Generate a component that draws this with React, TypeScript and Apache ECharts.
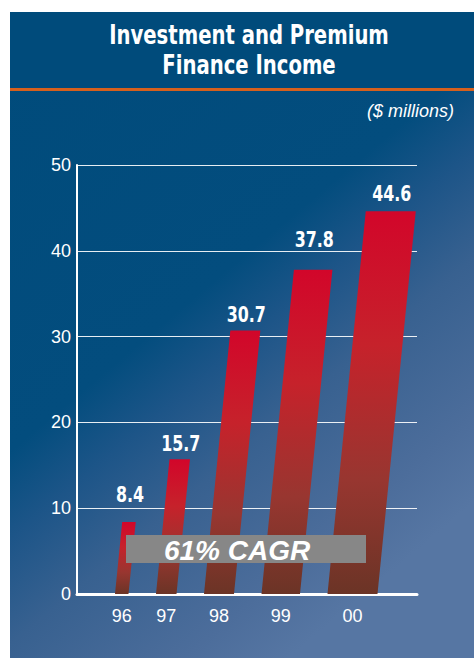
import React, { useEffect, useRef } from 'react';
import * as echarts from 'echarts';

const categories = ['96', '97', '98', '99', '00'];
const values = [8.4, 15.7, 30.7, 37.8, 44.6];
const titleLines = ['Investment and Premium', 'Finance Income'];
const unitLabel = '($ millions)';
const cagrLabel = '61% CAGR';

// styling constants (not data)
const BAR_WIDTHS = [13.5, 20.5, 30, 38.5, 50];
const LABEL_GAPS = [20, 9, 9, 23, 11];
const BAR_GAP = 27.5;
const FIRST_OFFSET = 38;
const SLANT = 0.1;
const NARROW = 0.84;

const CONDENSED = '"Liberation Sans Narrow", "DejaVu Sans Condensed", "Roboto Condensed", sans-serif';
const SANS = '"Liberation Sans", Arial, sans-serif';

export default function App() {
  const ref = useRef<HTMLDivElement>(null);

  useEffect(() => {
    document.body.style.margin = '0';
    const chart = echarts.init(ref.current as HTMLDivElement, null, { renderer: 'svg' });

    const barFill = new echarts.graphic.LinearGradient(0, 0, 0, 1, [
      { offset: 0, color: '#d2062a' },
      { offset: 0.35, color: '#c6222b' },
      { offset: 0.7, color: '#983630' },
      { offset: 1, color: '#6b3426' },
    ]);

    const option: any = {
      animation: false,
      backgroundColor: '#ffffff',
      grid: { left: 77, right: 57, top: 165, bottom: 64, containLabel: false },
      xAxis: {
        type: 'category',
        data: categories,
        axisLine: { show: true, lineStyle: { color: '#ffffff', width: 3 } },
        axisTick: { show: false },
        axisLabel: { show: false },
        splitLine: { show: false },
      },
      yAxis: {
        type: 'value',
        min: 0,
        max: 50,
        interval: 10,
        axisLine: { show: true, lineStyle: { color: '#ffffff', width: 2 } },
        axisTick: { show: false },
        axisLabel: { color: '#ffffff', fontSize: 18, fontFamily: SANS, margin: 6 },
        splitLine: { show: true, lineStyle: { color: 'rgba(255,255,255,0.9)', width: 1 } },
      },
      series: [
        {
          type: 'custom',
          z: 5,
          data: values.map((v, i) => [i, v]),
          renderItem: (params: any, api: any) => {
            const i = api.value(0) as number;
            const v = api.value(1) as number;
            const top = api.coord([i, v]);
            const base = api.coord([i, 0]);
            const cs = params.coordSys;
            let left = cs.x + FIRST_OFFSET;
            for (let k = 0; k < i; k++) left += BAR_WIDTHS[k] + BAR_GAP;
            const w = BAR_WIDTHS[i];
            const h = base[1] - top[1];
            const dx = SLANT * h;
            return {
              type: 'group',
              children: [
                {
                  type: 'polygon',
                  shape: {
                    points: [
                      [left, base[1]],
                      [left + w, base[1]],
                      [left + w + dx, top[1]],
                      [left + dx, top[1]],
                    ],
                  },
                  style: { fill: barFill },
                },
                {
                  type: 'text',
                  x: left + dx + w / 2 + 1,
                  y: top[1] - LABEL_GAPS[i] + 4,
                  scaleX: NARROW,
                  style: {
                    text: String(v),
                    fill: '#ffffff',
                    font: 'bold 21px ' + CONDENSED,
                    textAlign: 'center',
                    align: 'center',
                    textVerticalAlign: 'bottom',
                    verticalAlign: 'bottom',
                  },
                },
                {
                  type: 'text',
                  x: left + w / 2,
                  y: base[1] + 22,
                  style: {
                    text: categories[i],
                    fill: '#ffffff',
                    font: '18px ' + SANS,
                    textAlign: 'center',
                    align: 'center',
                    textVerticalAlign: 'middle',
                    verticalAlign: 'middle',
                  },
                },
              ],
            };
          },
        },
      ],
      graphic: [
        {
          type: 'rect',
          z: -10,
          silent: true,
          shape: { x: 10, y: 12, width: 464, height: 646 },
          style: {
            fill: new echarts.graphic.LinearGradient(0, 0, 0.6, 1, [
              { offset: 0, color: '#004b7b' },
              { offset: 0.5, color: '#034d7e' },
              { offset: 0.6, color: '#1d5588' },
              { offset: 0.72, color: '#386190' },
              { offset: 0.9, color: '#4c6d9b' },
              { offset: 1, color: '#5676a3' },
            ]),
          },
        },
        {
          type: 'rect',
          z: -9,
          silent: true,
          shape: { x: 10, y: 12, width: 464, height: 76 },
          style: { fill: '#004b7b' },
        },
        {
          type: 'rect',
          z: -8,
          silent: true,
          shape: { x: 10, y: 88, width: 464, height: 3 },
          style: { fill: '#d6601d' },
        },
        {
          type: 'text',
          z: 10,
          x: 249,
          y: 35,
          scaleX: NARROW,
          style: {
            text: titleLines[0],
            fill: '#ffffff',
            font: 'bold 26px ' + CONDENSED,
            textAlign: 'center',
            align: 'center',
            textVerticalAlign: 'middle',
            verticalAlign: 'middle',
          },
        },
        {
          type: 'text',
          z: 10,
          x: 249,
          y: 65,
          scaleX: NARROW,
          style: {
            text: titleLines[1],
            fill: '#ffffff',
            font: 'bold 26px ' + CONDENSED,
            textAlign: 'center',
            align: 'center',
            textVerticalAlign: 'middle',
            verticalAlign: 'middle',
          },
        },
        {
          type: 'text',
          z: 10,
          x: 454,
          y: 111,
          style: {
            text: unitLabel,
            fill: '#ffffff',
            font: 'italic 18px ' + SANS,
            textAlign: 'right',
            align: 'right',
            textVerticalAlign: 'middle',
            verticalAlign: 'middle',
          },
        },
        {
          type: 'rect',
          z: 100,
          silent: true,
          shape: { x: 126, y: 535, width: 240, height: 28 },
          style: { fill: '#878787' },
        },
        {
          type: 'text',
          z: 101,
          x: 237,
          y: 550,
          style: {
            text: cagrLabel,
            fill: '#ffffff',
            font: 'italic bold 28px ' + SANS,
            textAlign: 'center',
            align: 'center',
            textVerticalAlign: 'middle',
            verticalAlign: 'middle',
          },
        },
      ],
    };

    chart.setOption(option);
    return () => {
      chart.dispose();
    };
  }, []);

  return <div ref={ref} style={{ width: 474, height: 658 }} />;
}
